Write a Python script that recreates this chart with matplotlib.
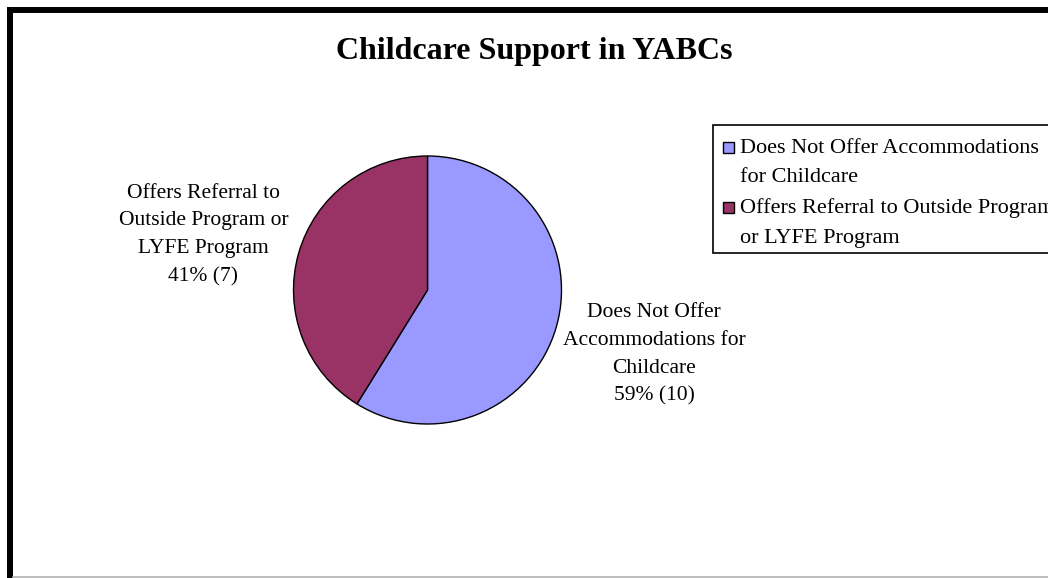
import matplotlib.pyplot as plt
from matplotlib.patches import Rectangle
from matplotlib.lines import Line2D

W, H = 1048, 578

# Childcare support categories and number of YABCs in each
pie_labels = ["Does Not Offer\nAccommodations for\nChildcare",
              "Offers Referral to\nOutside Program or\nLYFE Program"]
legend_labels = ["Does Not Offer Accommodations\nfor Childcare",
                 "Offers Referral to Outside Program\nor LYFE Program"]
counts = [10, 7]
colors = ["#9999FF", "#993366"]

SERIF = "Liberation Serif"


def fx(x):
    return x / W


def fy(y):
    return 1 - y / H


fig = plt.figure(figsize=(W / 100, H / 100), dpi=100)
fig.patch.set_facecolor("white")

# Outer chart frame (thick black on left/top, runs off the right/bottom)
fig.add_artist(Rectangle((fx(10), fy(600)), fx(1080) - fx(10), fy(10) - fy(600),
                         transform=fig.transFigure, facecolor="none",
                         edgecolor="black", linewidth=4.3, clip_on=False))
fig.add_artist(Line2D([fx(13), 1.0], [fy(577), fy(577)], transform=fig.transFigure,
                      color="#b0b0b0", linewidth=1.2))

fig.text(fx(534), fy(51), "Childcare Support in YABCs", ha="center", va="center",
         fontsize=23, fontweight="bold", family=SERIF)

# Pie: centre (427, 290) px, radius 134 px
cx, cy, r = 427.5, 290, 134
ax = fig.add_axes([fx(cx - r), fy(cy + r), 2 * r / W, 2 * r / H])
total = sum(counts)
texts = [f"{lab}\n{100 * n / total:.0f}% ({n})" for lab, n in zip(pie_labels, counts)]
wedges, label_texts = ax.pie(counts, colors=colors, startangle=90, counterclock=False,
                             labels=texts, labeldistance=1.76,
                             wedgeprops=dict(edgecolor="black", linewidth=1.0),
                             textprops=dict(ha="center", va="center", fontsize=15.5,
                                            family=SERIF, linespacing=1.62))
# nudge the left-hand label down slightly
x0, y0 = label_texts[1].get_position()
label_texts[1].set_position((x0 + 0.02, y0 - 0.07))
ax.set_xlim(-1, 1)
ax.set_ylim(-1, 1)
ax.set_aspect("equal")
ax.axis("off")

# Legend box
fig.add_artist(Rectangle((fx(713), fy(253)), fx(1200) - fx(713), fy(125) - fy(253),
                         transform=fig.transFigure, facecolor="white",
                         edgecolor="black", linewidth=1.2))
for i, (lab, col) in enumerate(zip(legend_labels, colors)):
    top = 142 + i * 60
    fig.add_artist(Rectangle((fx(723), fy(top + 11)), 11 / W, 11 / H,
                             transform=fig.transFigure, facecolor=col,
                             edgecolor="black", linewidth=1.0))
    fig.text(fx(740), fy(top + 21), lab, ha="left", va="center", fontsize=16,
             family=SERIF, linespacing=1.75)

fig.savefig("out.png", dpi=100)
